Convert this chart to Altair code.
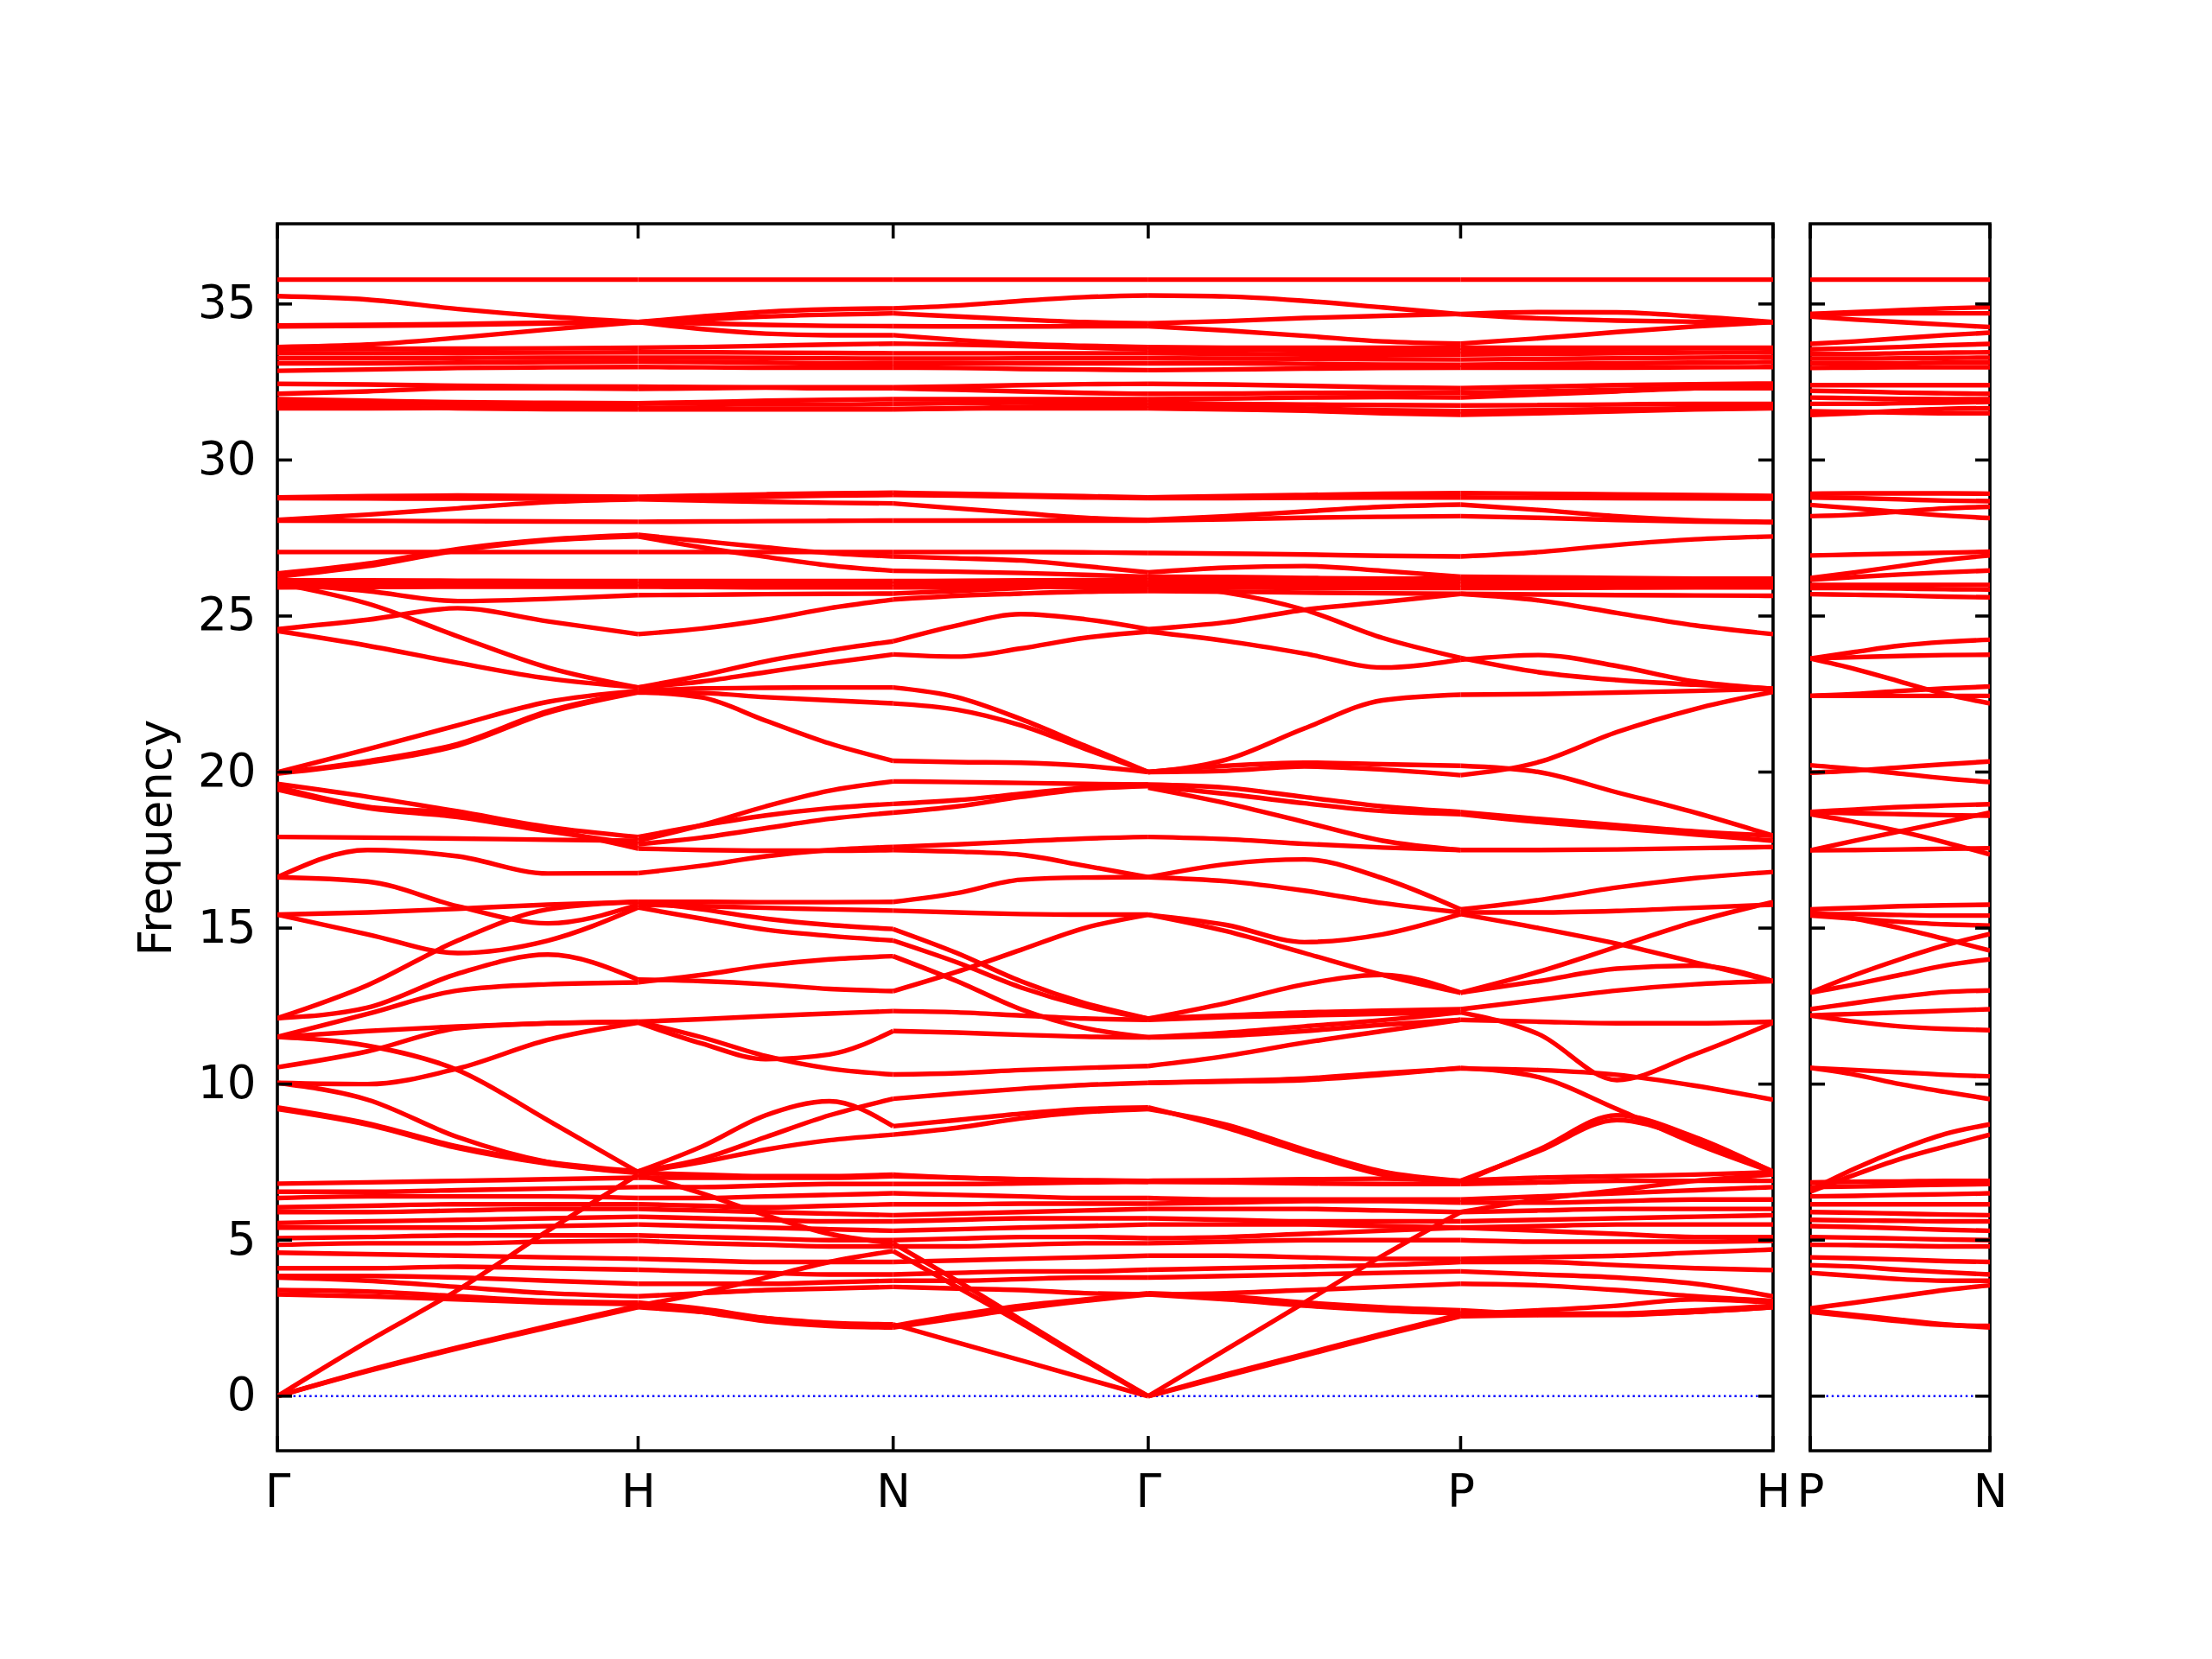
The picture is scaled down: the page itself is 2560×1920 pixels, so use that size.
import altair as alt
import pandas as pd

# ---- path (high-symmetry points) ----
sym_pos = [0.0, 1.0, 1.7071, 2.4142, 3.2802, 4.1463]
sym_lbl = ["Γ", "H", "N", "Γ", "P", "H"]
pn_pos = [0.0, 0.5]
pn_lbl = ["P", "N"]

# sample positions along the path (5 per segment, segments share end points)
q_main = [0.0, 0.25, 0.5, 0.75, 1.0,
          1.1768, 1.3536, 1.5303, 1.7071,
          1.8839, 2.0607, 2.2374, 2.4142,
          2.6307, 2.8472, 3.0637, 3.2802,
          3.4967, 3.7132, 3.9298, 4.1463]
q_pn = [0.0, 0.125, 0.25, 0.375, 0.5]

y_ticks = [0, 5, 10, 15, 20, 25, 30, 35]

# ---- whole bands along Γ-H-N-Γ-P-H (21 samples each) ----
bands_top = [
    [35.78,35.78,35.78,35.78,35.78, 35.78,35.78,35.78,35.78, 35.78,35.78,35.78,35.78, 35.78,35.78,35.78,35.78, 35.78,35.78,35.78,35.78],
    [35.25,35.14,34.84,34.6,34.42, 34.6,34.75,34.83,34.86, 34.95,35.1,35.22,35.27, 35.24,35.1,34.89,34.67, 34.54,34.47,34.43,34.42],
    [34.31,34.33,34.36,34.4,34.42, 34.5,34.6,34.66,34.70, 34.6,34.5,34.42,34.38, 34.45,34.55,34.62,34.68, 34.74,34.73,34.6,34.42],
    [34.28,34.3,34.33,34.38,34.42, 34.38,34.33,34.3,34.29, 34.28,34.28,34.29,34.29, 34.15,33.98,33.8,33.73, 33.9,34.1,34.28,34.42],
    [33.62,33.7,33.92,34.18,34.42, 34.2,34.05,34.0,34.0, 33.85,33.72,33.66,33.62, 33.6,33.6,33.6,33.6, 33.6,33.6,33.6,33.6],
    [33.55,33.56,33.57,33.58,33.6, 33.62,33.66,33.7,33.73, 33.7,33.65,33.6,33.55, 33.55,33.52,33.52,33.5, 33.52,33.55,33.58,33.58],
    [33.42,33.42,33.43,33.44,33.45, 33.45,33.44,33.43,33.42, 33.42,33.42,33.42,33.42, 33.4,33.38,33.38,33.38, 33.4,33.42,33.44,33.45],
    [33.26,33.26,33.27,33.28,33.28, 33.28,33.27,33.26,33.25, 33.25,33.26,33.26,33.26, 33.25,33.24,33.23,33.22, 33.24,33.26,33.28,33.3],
    [33.1,33.1,33.12,33.14,33.15, 33.14,33.12,33.1,33.1, 33.1,33.1,33.1,33.1, 33.1,33.08,33.06,33.05, 33.08,33.1,33.12,33.14],
    [32.86,32.9,32.95,32.97,32.98, 32.97,32.96,32.96,32.96, 32.95,32.92,32.9,32.88, 32.9,32.93,32.95,32.96, 32.96,32.96,32.97,32.98],
    [32.44,32.42,32.38,32.36,32.35, 32.34,32.33,32.33,32.33, 32.36,32.4,32.43,32.44, 32.42,32.38,32.33,32.3, 32.35,32.4,32.43,32.45],
    [32.12,32.2,32.3,32.3,32.28, 32.3,32.32,32.3,32.3, 32.25,32.2,32.15,32.12, 32.13,32.15,32.16,32.15, 32.2,32.25,32.3,32.3],
    [31.95,31.9,31.85,31.83,31.82, 31.85,31.9,31.93,31.95, 31.95,31.95,31.95,31.95, 31.97,32.0,32.02,32.0, 32.1,32.2,32.3,32.35],
    [31.84,31.82,31.8,31.8,31.82, 31.8,31.78,31.78,31.8, 31.82,31.84,31.84,31.84, 31.8,31.78,31.76,31.75, 31.76,31.78,31.8,31.8],
    [31.66,31.66,31.67,31.68,31.68, 31.66,31.64,31.64,31.64, 31.65,31.66,31.66,31.66, 31.62,31.58,31.5,31.45, 31.5,31.56,31.62,31.66],
    [31.72,31.7,31.66,31.63,31.62, 31.62,31.62,31.62,31.62, 31.66,31.7,31.73,31.75, 31.7,31.65,31.6,31.57, 31.6,31.63,31.66,31.7],
    [28.80,28.84,28.86,28.84,28.82, 28.86,28.9,28.93,28.95, 28.92,28.88,28.84,28.80, 28.84,28.88,28.92,28.94, 28.92,28.9,28.88,28.85],
    [28.78,28.77,28.76,28.76,28.76, 28.78,28.82,28.86,28.88, 28.86,28.83,28.8,28.78, 28.78,28.79,28.8,28.80, 28.79,28.78,28.77,28.76],
    [28.08,28.25,28.45,28.65,28.74, 28.7,28.66,28.63,28.61, 28.45,28.3,28.15,28.08, 28.2,28.35,28.5,28.57, 28.4,28.2,28.07,28.02],
    [28.06,28.05,28.04,28.03,28.02, 28.03,28.04,28.05,28.06, 28.06,28.06,28.06,28.06, 28.1,28.15,28.18,28.2, 28.15,28.08,28.03,28.0],
]

bands_upper = [
    [27.05,27.05,27.05,27.05,27.05, 27.05,27.05,27.05,27.05, 27.05,27.05,27.04,27.02, 27.0,26.97,26.93,26.91, 27.05,27.28,27.46,27.55],
    [26.36,26.68,27.15,27.45,27.6, 27.4,27.2,27.02,26.91, 26.85,26.78,26.6,26.4, 26.55,26.6,26.45,26.26, 26.24,26.22,26.2,26.2],
    [26.26,26.6,27.1,27.42,27.55, 27.2,26.9,26.62,26.45, 26.42,26.38,26.32,26.26, 26.25,26.22,26.2,26.2, 26.2,26.18,26.16,26.15],
    [26.14,26.14,26.13,26.12,26.12, 26.12,26.12,26.12,26.12, 26.13,26.14,26.15,26.15, 26.15,26.14,26.13,26.12, 26.12,26.12,26.12,26.12],
    [26.04,26.04,26.03,26.02,26.02, 26.02,26.02,26.03,26.03, 26.04,26.05,26.05,26.05, 26.04,26.03,26.02,26.02, 26.02,26.02,26.02,26.02],
    [25.92,25.93,25.94,25.94,25.94, 25.93,25.92,25.92,25.92, 25.92,25.93,25.93,25.93, 25.92,25.9,25.9,25.9, 25.9,25.91,25.92,25.92],
    [26.05,25.8,25.48,25.55,25.67, 25.68,25.7,25.71,25.72, 25.8,25.9,25.97,26.0, 25.75,25.2,24.3,23.66, 23.2,22.95,22.8,22.67],
    [24.58,24.88,25.25,24.83,24.42, 24.6,24.88,25.25,25.53, 25.65,25.72,25.78,25.8, 25.78,25.75,25.73,25.71, 25.69,25.67,25.66,25.65],
    [24.52,24.05,23.5,23.0,22.71, 23.1,23.55,23.9,24.19, 24.7,25.06,24.9,24.58, 24.8,25.2,25.45,25.71, 25.5,25.1,24.7,24.42],
    [26.05,25.4,24.35,23.35,22.71, 22.9,23.2,23.5,23.77, 23.7,23.96,24.3,24.5, 24.2,23.8,23.35,23.6, 23.75,23.4,22.9,22.67],
    [19.99,20.73,21.5,22.25,22.6, 22.68,22.7,22.71,22.71, 22.4,21.7,20.85,20.0, 20.4,21.4,22.3,22.48, 22.5,22.55,22.6,22.67],
    [19.95,20.3,20.85,21.9,22.55, 22.53,22.4,22.3,22.2, 22.0,21.5,20.75,20.0, 20.2,20.3,20.25,20.2, 20.0,19.35,18.7,17.96],
    [19.97,20.35,20.9,21.95,22.57, 22.39,21.65,20.92,20.36, 20.32,20.3,20.2,20.0, 20.04,20.18,20.08,19.9, 20.32,21.28,22.02,22.57],
]

bands_low = [
    [0.0,1.75,3.4,5.3,7.1, 6.5,5.8,5.2,4.9, 3.7,2.45,1.2,0.0, 1.5,3.0,4.5,5.9, 6.3,6.6,6.9,7.1],
    [0.0,0.8,1.53,2.2,2.85, 2.7,2.5,2.35,2.3, 1.72,1.15,0.57,0.0, 0.65,1.3,1.95,2.56, 2.6,2.62,2.7,2.85],
    [0.0,0.82,1.56,2.25,2.9, 3.3,3.8,4.3,4.65, 3.5,2.35,1.15,0.0, 0.7,1.35,2.0,2.62, 2.75,2.9,3.1,3.0],
    [3.26,3.2,3.1,3.0,2.95, 2.7,2.4,2.25,2.2, 2.5,2.8,3.05,3.26, 3.1,2.9,2.75,2.65, 2.6,2.6,2.7,2.85],
    [3.4,3.35,3.2,3.05,3.0, 2.8,2.5,2.3,2.25, 2.6,2.9,3.1,3.3, 3.2,3.0,2.85,2.75, 2.65,2.65,2.75,2.9],
    [3.8,3.7,3.5,3.3,3.2, 3.3,3.4,3.45,3.5, 3.45,3.4,3.3,3.26, 3.3,3.4,3.5,3.6, 3.55,3.4,3.2,3.05],
    [3.85,3.85,3.8,3.7,3.6, 3.6,3.6,3.65,3.7, 3.7,3.75,3.8,3.8, 3.85,3.9,3.95,4.0, 3.9,3.8,3.6,3.2],
    [4.1,4.1,4.15,4.1,4.05, 4.0,3.95,3.9,3.9, 3.95,4.0,4.0,4.05, 4.1,4.15,4.2,4.3, 4.3,4.2,4.1,4.04],
    [4.6,4.55,4.5,4.45,4.4, 4.35,4.3,4.3,4.3, 4.35,4.4,4.45,4.5, 4.5,4.45,4.4,4.4, 4.45,4.5,4.6,4.7],
    [4.85,4.9,4.9,4.95,4.98, 4.9,4.85,4.8,4.8, 4.8,4.85,4.9,4.9, 4.95,5.0,5.0,5.0, 4.95,4.95,4.95,4.98],
    [5.06,5.1,5.15,5.15,5.15, 5.1,5.05,5.0,5.0, 5.05,5.1,5.1,5.06, 5.1,5.2,5.3,5.4, 5.3,5.2,5.1,5.1],
    [5.4,5.4,5.4,5.45,5.5, 5.45,5.4,5.35,5.3, 5.35,5.4,5.45,5.5, 5.5,5.5,5.45,5.4, 5.45,5.5,5.5,5.5],
    [5.55,5.6,5.65,5.7,5.75, 5.7,5.65,5.6,5.6, 5.65,5.7,5.7,5.7, 5.65,5.6,5.6,5.6, 5.65,5.7,5.75,5.8],
    [5.9,5.9,5.95,6.0,6.0, 5.95,5.9,5.85,5.8, 5.85,5.9,5.95,6.0, 6.0,6.0,5.95,5.9, 5.95,6.0,6.0,6.0],
    [6.05,6.1,6.15,6.15,6.15, 6.1,6.05,6.1,6.15, 6.15,6.17,6.17,6.17, 6.2,6.25,6.25,6.2, 6.2,6.25,6.3,6.3],
    [6.35,6.4,6.4,6.4,6.35, 6.35,6.4,6.45,6.5, 6.45,6.4,6.35,6.35, 6.3,6.3,6.3,6.3, 6.4,6.5,6.6,6.7],
    [6.55,6.55,6.6,6.65,6.7, 6.7,6.75,6.8,6.8, 6.8,6.82,6.85,6.87, 6.85,6.82,6.8,6.8, 6.85,6.9,6.9,6.9],
    [6.81,6.85,6.9,6.95,7.0, 7.0,7.0,7.0,7.05, 7.0,6.95,6.92,6.9, 6.92,6.95,6.97,6.9, 7.0,7.05,7.1,7.18],
]

# ---- middle region (7-20), given segment by segment (5 samples each) ----
seg_GH_mid = [
    [19.62,19.21,18.74,18.24,17.92], [19.44,18.85,18.56,18.1,17.69], [19.53,18.89,18.68,18.17,17.55],
    [17.92,17.9,17.87,17.83,17.8],
    [16.63,17.5,17.3,16.75,16.76], [16.63,16.49,15.7,15.15,15.75],
    [15.43,15.5,15.62,15.75,15.84], [15.43,14.8,14.2,14.6,15.66],
    [12.11,13.17,14.6,15.6,15.84], [12.11,12.45,13.54,14.15,13.35],
    [11.51,12.25,13.0,13.2,13.26], [11.51,11.7,11.85,11.95,12.0],
    [10.54,11.05,11.79,11.95,12.0], [10.04,10.0,10.5,11.42,11.97],
    [11.51,11.23,10.45,8.84,7.18], [10.04,9.5,8.3,7.5,7.18],
    [9.25,8.74,8.0,7.5,7.2], [9.2,8.7,7.95,7.45,7.15],
]
seg_HN_mid = [
    [17.92,18.29,18.61,18.84,18.98], [17.8,18.3,18.9,19.4,19.7], [17.69,17.9,18.2,18.5,18.7],
    [17.55,17.5,17.48,17.48,17.5], [16.76,17.0,17.3,17.5,17.6],
    [15.84,15.84,15.83,15.83,15.84], [15.75,15.7,15.65,15.6,15.56],
    [15.84,15.6,15.3,15.1,14.97], [15.66,15.3,14.95,14.75,14.6],
    [13.35,13.3,13.2,13.05,12.98], [13.26,13.5,13.8,14.0,14.1],
    [12.0,12.08,12.18,12.26,12.34], [11.97,11.3,10.8,10.95,11.7], [12.0,11.5,10.9,10.5,10.31],
    [7.2,7.6,8.3,9.0,9.53], [7.2,8.0,9.0,9.45,8.65], [7.18,7.5,7.9,8.2,8.38], [7.15,7.1,7.05,7.05,7.1],
]
seg_NG_mid = [
    [19.7,19.68,19.65,19.62,19.6], [18.98,19.1,19.3,19.5,19.6], [18.7,18.9,19.2,19.45,19.55],
    [17.6,17.68,17.78,17.87,17.92], [17.5,17.45,17.35,17.0,16.63],
    [15.84,16.12,16.55,16.62,16.63], [15.56,15.5,15.45,15.43,15.43],
    [14.97,14.2,13.3,12.6,12.1], [14.6,13.9,13.1,12.5,12.1], [14.1,13.3,12.4,11.8,11.5],
    [12.98,13.6,14.3,15.0,15.43], [12.34,12.3,12.2,12.1,12.06], [11.7,11.65,11.58,11.52,11.5],
    [10.31,10.35,10.45,10.52,10.58], [9.53,9.7,9.85,9.97,10.04],
    [8.65,8.85,9.05,9.2,9.25], [8.38,8.6,8.9,9.1,9.2], [7.1,7.0,6.95,6.9,6.87],
]
seg_GP_mid = [
    [19.6,19.5,19.2,18.9,18.72], [19.55,19.3,19.0,18.75,18.65], [19.5,19.0,18.4,17.8,17.5],
    [17.92,17.85,17.7,17.58,17.5],
    [16.63,17.05,17.2,16.6,15.6], [16.63,16.5,16.2,15.8,15.5],
    [15.43,15.1,14.55,14.8,15.45], [15.43,14.9,14.2,13.5,12.93],
    [12.1,12.6,13.2,13.5,12.93], [12.1,12.2,12.3,12.35,12.4], [12.06,12.15,12.2,12.25,12.3],
    [11.5,11.65,11.85,12.05,12.3], [11.5,11.55,11.7,11.9,12.06], [10.58,10.9,11.33,11.7,12.06],
    [10.04,10.08,10.13,10.3,10.52], [10.04,10.1,10.18,10.35,10.5],
    [9.25,8.6,7.8,7.1,6.85], [9.2,8.7,7.9,7.2,6.9],
]
seg_PH_mid = [
    [18.72,18.5,18.3,18.1,17.96], [18.65,18.4,18.2,18.0,17.8], [17.5,17.5,17.52,17.56,17.6],
    [15.6,15.9,16.3,16.6,16.8], [15.5,15.5,15.55,15.65,15.75],
    [15.45,15.0,14.5,13.9,13.3], [12.93,13.6,14.4,15.2,15.84], [12.93,13.3,13.7,13.8,13.3],
    [12.4,12.7,13.0,13.2,13.3], [12.3,11.6,10.13,10.96,11.97], [12.06,12.0,11.95,11.95,12.0],
    [10.52,10.22,9.2,8.1,7.18], [10.5,10.45,10.3,9.95,9.5],
    [6.85,7.9,9.0,8.3,7.18], [6.9,7.85,8.85,8.2,7.2],
]

# ---- second path P-N (5 samples) ----
bands_pn = [
    [35.78,35.78,35.78,35.78,35.78],
    [34.68,34.74,34.8,34.86,34.9], [34.68,34.69,34.7,34.7,34.7], [34.6,34.5,34.42,34.34,34.26],
    [33.72,33.8,33.9,34.0,34.08], [33.55,33.58,33.62,33.68,33.72], [33.4,33.4,33.42,33.44,33.45],
    [33.25,33.25,33.26,33.27,33.28], [33.1,33.1,33.1,33.12,33.12], [32.95,32.96,32.97,32.97,32.97],
    [32.4,32.4,32.4,32.4,32.4], [32.22,32.2,32.16,32.14,32.12], [32.0,31.98,31.96,31.95,31.95],
    [31.8,31.8,31.82,31.84,31.86], [31.56,31.54,31.52,31.5,31.5], [31.44,31.5,31.58,31.64,31.66],
    [28.92,28.93,28.93,28.93,28.92], [28.8,28.78,28.74,28.7,28.68], [28.56,28.45,28.33,28.22,28.14],
    [28.2,28.25,28.35,28.45,28.5],
    [26.94,26.97,27.0,27.03,27.06], [26.22,26.4,26.6,26.8,26.94], [26.16,26.25,26.33,26.4,26.46],
    [26.0,26.0,26.0,26.0,26.0], [25.9,25.9,25.88,25.86,25.85], [25.7,25.68,25.66,25.62,25.6],
    [23.64,23.85,24.05,24.17,24.24], [23.64,23.68,23.72,23.75,23.76], [23.64,23.3,22.9,22.5,22.2],
    [22.44,22.5,22.6,22.68,22.74], [22.44,22.44,22.44,22.44,22.44],
    [20.22,20.1,19.95,19.8,19.68], [19.98,20.05,20.15,20.25,20.34],
    [18.72,18.8,18.88,18.93,18.97], [18.72,18.68,18.65,18.62,18.6], [18.65,18.4,18.1,17.75,17.36],
    [17.49,17.8,18.1,18.4,18.7], [17.49,17.5,17.52,17.54,17.56],
    [15.6,15.65,15.7,15.73,15.75], [15.5,15.3,15.0,14.65,14.28], [15.4,15.3,15.2,15.12,15.08],
    [15.45,15.45,15.42,15.4,15.4],
    [12.93,13.5,14.0,14.45,14.81], [12.93,13.2,13.5,13.8,14.0], [12.4,12.6,12.8,12.95,13.0],
    [12.2,12.25,12.3,12.35,12.4], [12.2,12.0,11.85,11.77,11.73],
    [10.52,10.45,10.38,10.3,10.25], [10.52,10.3,10.0,9.75,9.52],
    [6.6,7.3,7.9,8.4,8.71], [6.55,7.1,7.6,8.0,8.38],
    [6.85,6.87,6.88,6.9,6.9], [6.7,6.72,6.75,6.78,6.8], [6.4,6.42,6.45,6.47,6.5],
    [6.15,6.15,6.15,6.15,6.15], [5.9,5.88,5.85,5.82,5.8], [5.65,5.63,5.62,5.6,5.6],
    [5.45,5.42,5.38,5.33,5.3], [5.1,5.08,5.05,5.02,5.0], [4.85,4.84,4.82,4.8,4.8],
    [4.45,4.42,4.38,4.33,4.3], [4.2,4.15,4.05,3.97,3.9], [3.95,3.85,3.75,3.7,3.7],
    [2.81,3.0,3.2,3.4,3.55], [2.75,2.6,2.45,2.3,2.2], [2.7,2.55,2.4,2.28,2.25],
]

# ---- build long tables: every band piece between two special points is one line ----
rows = []
n = 0
for band in bands_top + bands_upper + bands_low:
    for s in range(5):
        for k in range(5):
            rows.append({"x": q_main[4 * s + k], "y": band[4 * s + k], "key": f"b{n}", "k": k})
        n += 1
for s, seg in enumerate([seg_GH_mid, seg_HN_mid, seg_NG_mid, seg_GP_mid, seg_PH_mid]):
    for line in seg:
        for k in range(5):
            rows.append({"x": q_main[4 * s + k], "y": line[k], "key": f"b{n}", "k": k})
        n += 1
df_main = pd.DataFrame(rows)

rows = []
for b, band in enumerate(bands_pn):
    for k, (xv, yv) in enumerate(zip(q_pn, band)):
        rows.append({"x": xv, "y": yv, "key": f"p{b}", "k": k})
df_pn = pd.DataFrame(rows)

df_yt = pd.DataFrame({"y": y_ticks})
df_zero = pd.DataFrame({"y": [0.0]})
df_xt_main = pd.DataFrame({"x": sym_pos})
df_xt_pn = pd.DataFrame({"x": pn_pos})

W1, W2, H = 1731, 208, 1420
TICK = 17
FS = 53
RED = "#ff0000"
YDOM = [-1.75, 37.57]


def label_expr(pos, lbl):
    s = ""
    for i in range(len(pos) - 1):
        mid = (pos[i] + pos[i + 1]) / 2
        s += f"datum.value < {mid:.4f} ? '{lbl[i]}' : "
    return s + f"'{lbl[-1]}'"


def panel(df, width, xdom, xpos, xlbl, df_xt, show_y):
    xs = alt.Scale(domain=xdom, nice=False, zero=False)
    ys = alt.Scale(domain=YDOM, nice=False, zero=False)
    xaxis = alt.Axis(values=xpos, labelExpr=label_expr(xpos, xlbl), ticks=False,
                     domain=False, grid=False, labelFontSize=FS, labelColor="black",
                     labelPadding=22, labelFlush=False, labelOverlap=False, title=None)
    if show_y:
        yaxis = alt.Axis(values=y_ticks, ticks=False, domain=False, grid=False,
                         labelFontSize=FS, labelColor="black", labelPadding=25,
                         title="Frequency", titleFontSize=FS, titleFontWeight="normal",
                         titleColor="black", titlePadding=20)
    else:
        yaxis = None

    X = alt.X("x:Q", scale=xs, axis=xaxis)
    Y = alt.Y("y:Q", scale=ys, axis=yaxis)

    lines = alt.Chart(df).mark_line(color=RED, strokeWidth=5.4, interpolate="monotone",
                                    clip=True).encode(
        x=X, y=Y, detail="key:N", order="k:Q")
    zero = alt.Chart(df_zero).mark_rule(color="#0000ff", strokeWidth=2.4,
                                        strokeDash=[2.4, 3.8]).encode(
        y=Y, x=alt.value(0), x2=alt.value(width))
    yt_l = alt.Chart(df_yt).mark_rule(color="black", strokeWidth=3.6).encode(
        y=Y, x=alt.value(0), x2=alt.value(TICK))
    yt_r = alt.Chart(df_yt).mark_rule(color="black", strokeWidth=3.6).encode(
        y=Y, x=alt.value(width - TICK), x2=alt.value(width))
    xt_b = alt.Chart(df_xt).mark_rule(color="black", strokeWidth=3.6).encode(
        x=X, y=alt.value(H - TICK), y2=alt.value(H))
    xt_t = alt.Chart(df_xt).mark_rule(color="black", strokeWidth=3.6).encode(
        x=X, y=alt.value(0), y2=alt.value(TICK))
    return alt.layer(zero, lines, yt_l, yt_r, xt_b, xt_t).properties(width=width, height=H)


p1 = panel(df_main, W1, [0, 4.1463], sym_pos, sym_lbl, df_xt_main, True)
p2 = panel(df_pn, W2, [0, 0.5], pn_pos, pn_lbl, df_xt_pn, False)

chart = alt.hconcat(p1, p2, spacing=3).properties(
    padding={"left": 145, "top": 247, "right": 10, "bottom": 10}
).configure(font="DejaVu Sans").configure_view(stroke="black", strokeWidth=3.6)

chart.save("out.html", embed_options={"renderer": "svg", "actions": False})
